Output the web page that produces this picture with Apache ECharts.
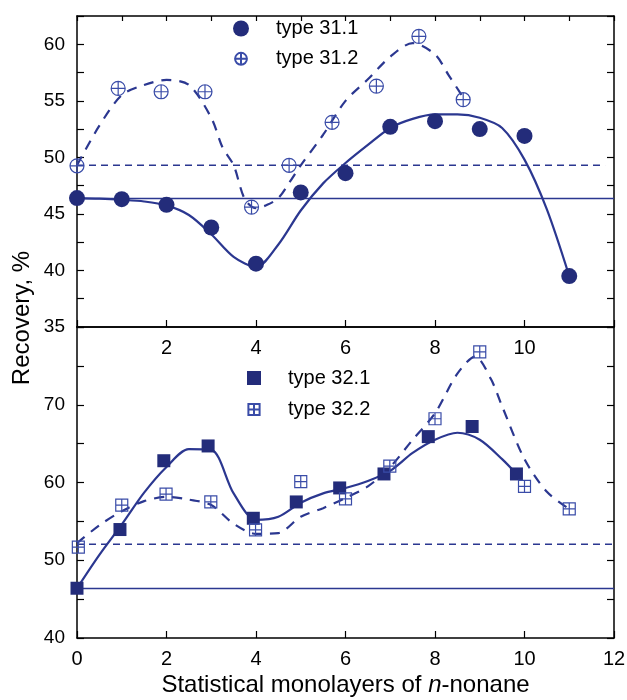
<!DOCTYPE html>
<html><head><meta charset="utf-8">
<script src="https://cdn.jsdelivr.net/npm/echarts@6/dist/echarts.min.js"></script>
<style>html,body{margin:0;padding:0;background:#fff}#c{width:627px;height:700px}</style>
</head><body><div id="c"></div><script>
// ---- Top panel data ----
const t311X = [0,1,2,3,4,5,6,7,8,9,10,11];
const t311Y = [46.4,46.3,45.8,43.8,40.6,46.9,48.6,52.7,53.2,52.5,51.9,39.5];
const t312X = [0,0.92,1.88,2.86,3.9,4.74,5.7,6.69,7.64,8.63];
const t312Y = [49.25,56.1,55.8,55.8,45.6,49.3,53.1,56.3,60.7,55.1];
const fit311X = [0,0.5,1,1.5,2,2.5,3,3.5,4,4.5,5,5.5,6,6.5,7,7.5,8,8.5,9,9.5,10,10.5,11];
const fit311Y = [46.4,46.35,46.25,46.1,45.75,44.9,43.2,41.2,40.3,42.3,45.3,47.7,49.5,51.1,52.6,53.4,53.8,53.8,53.5,52.6,49.8,45.4,39.5];
const fit312X = [0,0.5,1,1.5,2,2.5,3,3.25,3.5,3.75,4,4.25,4.5,4.75,5,5.5,6,6.5,7,7.5,8,8.3,8.63];
const fit312Y = [49.3,52.8,55.5,56.4,56.85,56.4,53.5,50.9,49.3,46.3,45.5,45.8,46.4,47.8,49.3,52.0,55.0,56.9,58.9,60.1,59.1,57.3,55.3];
const mean311 = 46.36, mean312 = 49.3;
const meanTopX = [0,12], meanTopDashX = [0,11.8];

// ---- Bottom panel data ----
const t321X = [0,0.96,1.94,2.93,3.94,4.9,5.87,6.86,7.85,8.83,9.82];
const t321Y = [46.4,53.95,62.8,64.7,55.4,57.5,59.3,61.1,65.9,67.2,61.1];
const t322X = [0.03,1,1.99,2.99,3.99,5,6,6.99,8,9,10,11];
const t322Y = [51.7,57.1,58.5,57.5,53.9,60.1,57.9,62.1,68.2,76.8,59.5,56.6];
const fit321X = [0,0.5,1,1.5,2,2.5,3,3.5,4,4.5,5,5.5,6,6.5,7,7.5,8,8.5,9,9.5,9.82];
const fit321Y = [46.4,50.7,54.6,58.7,62.0,64.3,64.2,58.6,55.2,55.6,57.4,58.6,59.3,60.2,61.5,63.8,65.5,66.4,65.5,63.0,61.1];
const fit322X = [0,0.5,1,1.5,2,2.5,3,3.5,4,4.5,5,5.5,6,6.5,7,7.5,8,8.5,8.9,9.25,9.5,10,10.5,11];
const fit322Y = [52.2,54.5,56.3,57.6,58.15,57.8,57.1,54.7,53.4,53.5,55.6,56.7,58.0,59.5,62.0,65.5,68.9,74.0,76.2,73.3,69.8,63.0,58.8,56.6];
const mean321 = 46.36, mean322 = 52.06;
const meanBotX = [0,12];

// ---- Axis ticks ----
const topYMin = 35, topYMax = 62.5, topYStep = 2.5;
const botYMin = 40, botYMax = 80, botYStep = 5;
const xMin = 0, xMax = 12;

const zip = (xs, ys) => xs.map((x, i) => [x, ys[i]]);
const constLine = (xs, v) => xs.map(x => [x, v]);

const LINE = '#2b3790';
const DARK = '#232c7a';
const OPEN = '#3a4ca8';
const FONT = '"Liberation Sans", Arial, Helvetica, sans-serif';
const circlePlus = 'path://M0,10 A10,10 0 1,1 20,10 A10,10 0 1,1 0,10 Z M10,0 L10,20 M0,10 L20,10';
const squarePlus = 'path://M0,0 L20,0 L20,20 L0,20 Z M10,0 L10,20 M0,10 L20,10';
// legend icons: same glyphs with invisible margins so they render smaller
const circlePlusLeg = 'path://M-3.5,-3.5 M23.5,23.5 M0,10 A10,10 0 1,1 20,10 A10,10 0 1,1 0,10 Z M10,0 L10,20 M0,10 L20,10';
const squarePlusLeg = 'path://M-2.5,-2.5 M22.5,22.5 M0,0 L20,0 L20,20 L0,20 Z M10,0 L10,20 M0,10 L20,10';

const axLine = {show: true, onZero: false, lineStyle: {color: '#000', width: 1.5}};
const tickIn = (len) => ({show: true, inside: true, length: len, lineStyle: {color: '#000', width: 1.2}});

const chart = echarts.init(document.getElementById('c'));
chart.setOption({
  backgroundColor: '#fff',
  animation: false,
  grid: [
    {left: 77, width: 537, top: 16, height: 311, outerBoundsMode: 'none'},
    {left: 77, width: 537, top: 327, height: 311, outerBoundsMode: 'none'}
  ],
  xAxis: [
    {gridIndex: 0, type: 'value', min: xMin, max: xMax, interval: 2, position: 'bottom',
     axisLine: axLine, axisTick: tickIn(7), splitLine: {show: false},
     axisLabel: {margin: 11, fontSize: 20, color: '#000', fontFamily: FONT,
       formatter: v => (v > 0 && v < 12) ? String(v) : ''}},
    {gridIndex: 0, type: 'value', min: xMin, max: xMax, interval: 1, position: 'top',
     axisLine: axLine, axisTick: tickIn(5), splitLine: {show: false}, axisLabel: {show: false}},
    {gridIndex: 1, type: 'value', min: xMin, max: xMax, interval: 2, position: 'bottom',
     axisLine: axLine, axisTick: tickIn(7), splitLine: {show: false},
     axisLabel: {margin: 11, fontSize: 20, color: '#000', fontFamily: FONT},
     name: '{a|Statistical monolayers of }{i|n}{a|-nonane}', nameLocation: 'middle', nameGap: 35,
     nameTextStyle: {rich: {
       a: {fontSize: 24, fontFamily: FONT, color: '#000'},
       i: {fontSize: 24, fontFamily: FONT, color: '#000', fontStyle: 'italic'}}}},
    {gridIndex: 1, type: 'value', min: xMin, max: xMax, interval: 2, position: 'top',
     axisLine: axLine, axisTick: {show: false}, splitLine: {show: false}, axisLabel: {show: false}}
  ],
  yAxis: [
    {gridIndex: 0, type: 'value', min: topYMin, max: topYMax, interval: topYStep, position: 'left',
     axisLine: axLine, axisTick: tickIn(7), splitLine: {show: false},
     axisLabel: {margin: 12, fontSize: 19, color: '#000', fontFamily: FONT,
       formatter: v => (v % 5 === 0) ? String(v) : ''}},
    {gridIndex: 0, type: 'value', min: topYMin, max: topYMax, interval: topYStep, position: 'right',
     axisLine: axLine, axisTick: tickIn(7), splitLine: {show: false}, axisLabel: {show: false}},
    {gridIndex: 1, type: 'value', min: botYMin, max: botYMax, interval: botYStep, position: 'left',
     axisLine: axLine, axisTick: tickIn(7), splitLine: {show: false},
     axisLabel: {margin: 12, fontSize: 19, color: '#000', fontFamily: FONT,
       formatter: v => (v % 10 === 0 && v < 80) ? String(v) : ''}},
    {gridIndex: 1, type: 'value', min: botYMin, max: botYMax, interval: botYStep, position: 'right',
     axisLine: axLine, axisTick: tickIn(7), splitLine: {show: false}, axisLabel: {show: false}}
  ],
  legend: [
    {left: 232, top: 18.5, padding: 0, orient: 'vertical', itemWidth: 16, itemHeight: 16, itemGap: 10.3,
     textStyle: {fontSize: 20, fontFamily: FONT, color: '#000', padding: [0, 0, 0, 22], lineHeight: 20},
     data: [{name: 'type 31.1', icon: 'circle'}, {name: 'type 31.2', icon: circlePlusLeg}]},
    {left: 246, top: 368, padding: 0, orient: 'vertical', itemWidth: 14, itemHeight: 14, itemGap: 11.5,
     textStyle: {fontSize: 20, fontFamily: FONT, color: '#000', padding: [0, 0, 0, 22], lineHeight: 20},
     data: [{name: 'type 32.1', icon: 'rect'}, {name: 'type 32.2', icon: squarePlusLeg}]}
  ],
  graphic: [
    {type: 'text', x: 22, y: 318, rotation: Math.PI / 2,
     style: {text: 'Recovery, %', fontSize: 24, fontFamily: FONT, fill: '#000', align: 'center', verticalAlign: 'middle'}}
  ],
  series: [
    // top: mean lines
    {type: 'line', xAxisIndex: 0, yAxisIndex: 0, data: constLine(meanTopX, mean311), showSymbol: false, silent: true,
     lineStyle: {color: LINE, width: 1.4}},
    {type: 'line', xAxisIndex: 0, yAxisIndex: 0, data: constLine(meanTopDashX, mean312), showSymbol: false, silent: true,
     lineStyle: {color: LINE, width: 1.4, type: [7, 5]}},
    // top: fits
    {type: 'line', xAxisIndex: 0, yAxisIndex: 0, data: zip(fit311X, fit311Y), smooth: 0.3, showSymbol: false, silent: true,
     lineStyle: {color: LINE, width: 2.2}},
    {type: 'line', xAxisIndex: 0, yAxisIndex: 0, data: zip(fit312X, fit312Y), smooth: 0.3, showSymbol: false, silent: true,
     lineStyle: {color: LINE, width: 2.2, type: [10, 8]}},
    // top: markers
    {name: 'type 31.1', type: 'scatter', xAxisIndex: 0, yAxisIndex: 0, data: zip(t311X, t311Y), z: 5,
     symbol: 'circle', symbolSize: 16, itemStyle: {color: DARK, opacity: 1}},
    {name: 'type 31.2', type: 'scatter', xAxisIndex: 0, yAxisIndex: 0, data: zip(t312X, t312Y), z: 5,
     symbol: circlePlus, symbolSize: 14, itemStyle: {color: 'rgba(255,255,255,0)', borderColor: OPEN, borderWidth: 1.2, opacity: 1}},
    // bottom: mean lines
    {type: 'line', xAxisIndex: 2, yAxisIndex: 2, data: constLine(meanBotX, mean321), showSymbol: false, silent: true,
     lineStyle: {color: LINE, width: 1.4}},
    {type: 'line', xAxisIndex: 2, yAxisIndex: 2, data: constLine(meanBotX, mean322), showSymbol: false, silent: true,
     lineStyle: {color: LINE, width: 1.4, type: [7, 5]}},
    // bottom: fits
    {type: 'line', xAxisIndex: 2, yAxisIndex: 2, data: zip(fit321X, fit321Y), smooth: 0.3, showSymbol: false, silent: true,
     lineStyle: {color: LINE, width: 2.2}},
    {type: 'line', xAxisIndex: 2, yAxisIndex: 2, data: zip(fit322X, fit322Y), smooth: 0.3, showSymbol: false, silent: true,
     lineStyle: {color: LINE, width: 2.2, type: [10, 8]}},
    // bottom: markers
    {name: 'type 32.1', type: 'scatter', xAxisIndex: 2, yAxisIndex: 2, data: zip(t321X, t321Y), z: 5,
     symbol: 'rect', symbolSize: 13, itemStyle: {color: DARK, opacity: 1}},
    {name: 'type 32.2', type: 'scatter', xAxisIndex: 2, yAxisIndex: 2, data: zip(t322X, t322Y), z: 5,
     symbol: squarePlus, symbolSize: 12, itemStyle: {color: 'rgba(255,255,255,0)', borderColor: OPEN, borderWidth: 1.2, opacity: 1}}
  ]
});
</script></body></html>
